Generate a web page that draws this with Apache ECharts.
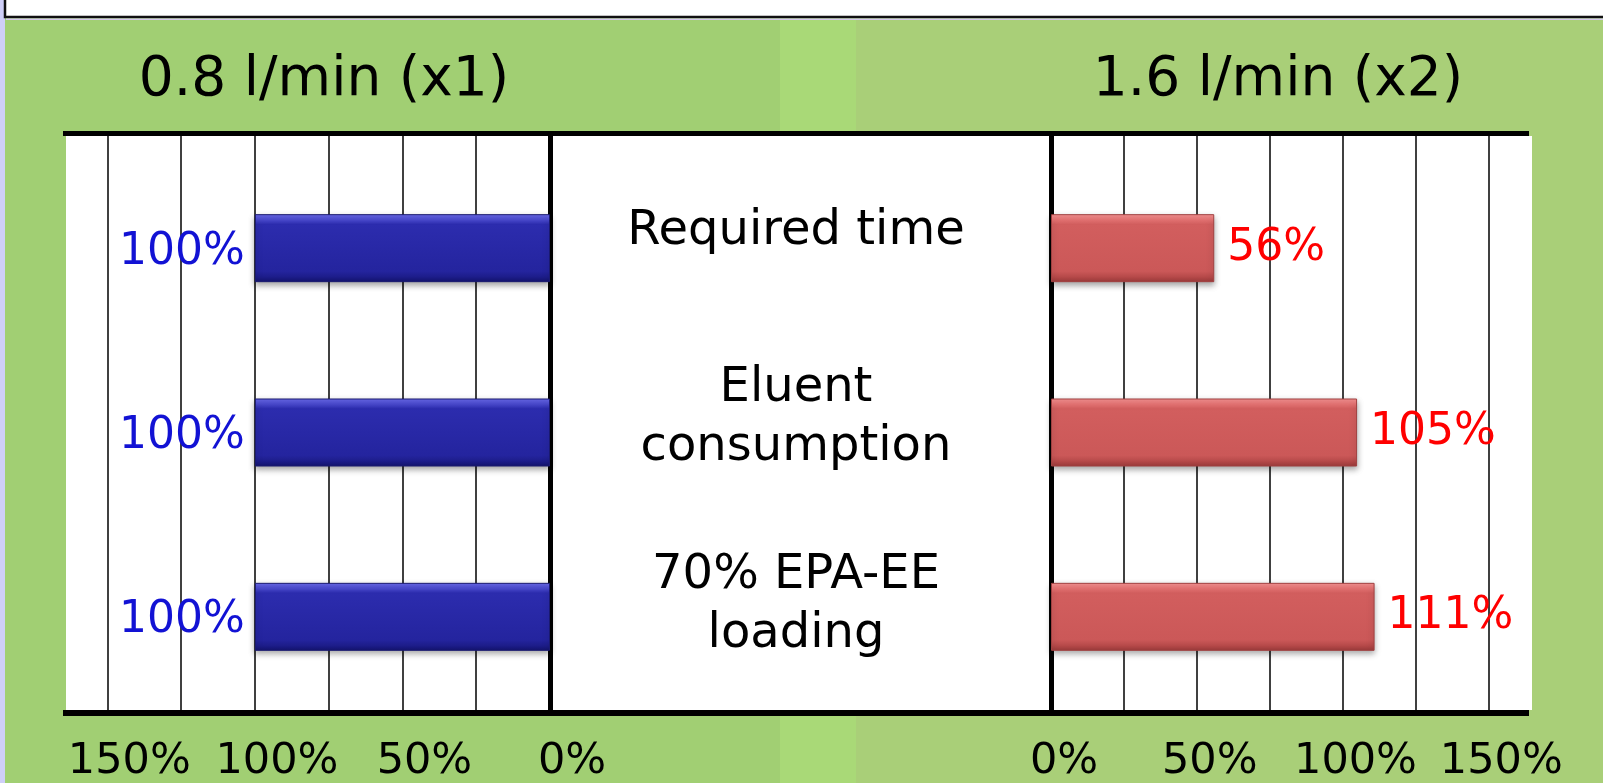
<!DOCTYPE html>
<html>
<head>
<meta charset="utf-8">
<title>Flow rate comparison</title>
<script src="https://cdn.jsdelivr.net/npm/echarts@6/dist/echarts.min.js"></script>
<style>
  html, body { margin: 0; padding: 0; background: #a1cf73; }
  #chart { width: 1603px; height: 783px; }
</style>
</head>
<body>
<div id="chart"></div>
<script>
// Process parameters compared at two flow rates
const categories = ['Required time', 'Eluent\nconsumption', '70% EPA-EE\nloading'];
const lowFlowValues = [100, 100, 100];   // 0.8 l/min (x1)
const highFlowValues = [56, 105, 111];   // 1.6 l/min (x2)
const lowFlowTitle = '0.8 l/min (x1)';
const highFlowTitle = '1.6 l/min (x2)';
const tickStep = 25;
const labelStep = 50;

const FONT = 'DejaVu Sans';

function tickLabel(v) {
  return (v % labelStep === 0 && v <= 150) ? v + '%' : '';
}

function barGradient(stops) {
  return new echarts.graphic.LinearGradient(0, 0, 0, 1, stops);
}

const blueFill = barGradient([
  { offset: 0, color: '#6a6aea' },
  { offset: 0.08, color: '#4c4cd2' },
  { offset: 0.15, color: '#2c2cae' },
  { offset: 0.84, color: '#24249e' },
  { offset: 0.93, color: '#1c1c88' },
  { offset: 1, color: '#13136c' }
]);
const redFill = barGradient([
  { offset: 0, color: '#f69494' },
  { offset: 0.08, color: '#ea7676' },
  { offset: 0.15, color: '#d25e5e' },
  { offset: 0.84, color: '#cb5858' },
  { offset: 0.93, color: '#b44848' },
  { offset: 1, color: '#9a3a3a' }
]);

const valueAxisFrame = (gridIndex, max, inverse, labelShift, margin) => ({
  type: 'value', gridIndex, min: 0, max, interval: tickStep, inverse,
  axisLine: { show: false }, axisTick: { show: false },
  splitLine: { show: true, showMinLine: false, showMaxLine: false,
    lineStyle: { color: '#000', width: 1.5 } },
  axisLabel: {
    show: true, formatter: tickLabel, showMaxLabel: false,
    margin, color: '#000', fontFamily: FONT, fontSize: 43,
    padding: labelShift >= 0 ? [0, 0, 0, labelShift * 2] : [0, -labelShift * 2, 0, 0]
  }
});

const valueAxisHidden = (gridIndex, max, inverse) => ({
  type: 'value', gridIndex, min: 0, max, inverse, show: false,
  splitLine: { show: false }
});

const option = {
  animation: false,
  backgroundColor: '#a1cf73',
  graphic: [
    // page backdrop
    { type: 'rect', z: -20, shape: { x: 0, y: 0, width: 1603, height: 783 }, style: { fill: '#a1cf73' } },
    { type: 'rect', z: -19, shape: { x: 780, y: 19, width: 76, height: 764 }, style: { fill: '#a9d977' } },
    { type: 'rect', z: -19, shape: { x: 856, y: 19, width: 747, height: 764 }, style: { fill: '#a9cf78' } },
    { type: 'rect', z: -19, shape: { x: 0, y: 0, width: 5, height: 783 }, style: { fill: '#cfcff8' } },
    { type: 'rect', z: -18, shape: { x: 5, y: -5, width: 1610, height: 22 },
      style: { fill: '#fff', stroke: '#111', lineWidth: 2.5 } },
    { type: 'rect', z: -18, shape: { x: 6, y: 18.5, width: 1597, height: 1.5 }, style: { fill: '#d4c8ec' } },
    // plot panel
    { type: 'rect', z: -10, shape: { x: 66, y: 136, width: 1466, height: 574 }, style: { fill: '#fff' } },
    { type: 'rect', z: 50, shape: { x: 63, y: 131, width: 1466, height: 5 }, style: { fill: '#000' } },
    { type: 'rect', z: 50, shape: { x: 63, y: 710, width: 1466, height: 6 }, style: { fill: '#000' } },
    // panel headings
    { type: 'text', z: 50, x: 324, y: 81,
      style: { text: lowFlowTitle, fill: '#000', font: '55px "DejaVu Sans"', textAlign: 'center', textVerticalAlign: 'middle' } },
    { type: 'text', z: 50, x: 1278, y: 81,
      style: { text: highFlowTitle, fill: '#000', font: '55px "DejaVu Sans"', textAlign: 'center', textVerticalAlign: 'middle' } }
  ],
  grid: [
    { left: 66, width: 484, top: 134, height: 582 },   // left frame
    { left: 66, width: 484, top: 156, height: 553 },   // left bars
    { left: 1051, width: 481, top: 134, height: 582 }, // right frame
    { left: 1051, width: 481, top: 156, height: 553 }, // right bars
    { left: 1051, width: 481, top: 138, height: 560 }  // category captions
  ],
  xAxis: [
    valueAxisFrame(0, 164, true, 22, 27),
    valueAxisHidden(1, 164, true),
    valueAxisFrame(2, 165, false, 13, 29),
    valueAxisHidden(3, 165, false),
    valueAxisHidden(4, 165, false)
  ],
  yAxis: [
    { type: 'category', gridIndex: 0, data: categories, inverse: true, position: 'right',
      axisLine: { show: true, onZero: false, lineStyle: { color: '#000', width: 5 } },
      axisTick: { show: false }, axisLabel: { show: false }, splitLine: { show: false } },
    { type: 'category', gridIndex: 1, data: categories, inverse: true, show: false },
    { type: 'category', gridIndex: 2, data: categories, inverse: true, position: 'left',
      axisLine: { show: true, onZero: false, lineStyle: { color: '#000', width: 5 } },
      axisTick: { show: false }, axisLabel: { show: false }, splitLine: { show: false } },
    { type: 'category', gridIndex: 3, data: categories, inverse: true, show: false },
    { type: 'category', gridIndex: 4, data: categories, inverse: true, position: 'left',
      axisLine: { show: false }, axisTick: { show: false }, splitLine: { show: false },
      axisLabel: { show: true, margin: 255, align: 'center', color: '#000',
        fontFamily: FONT, fontSize: 48, lineHeight: 59 } }
  ],
  series: [
    {
      name: lowFlowTitle, type: 'bar', xAxisIndex: 1, yAxisIndex: 1, z: 3,
      data: lowFlowValues, barWidth: 68,
      itemStyle: { color: blueFill, borderColor: '#1a1a70', borderWidth: 1,
        shadowBlur: 6, shadowOffsetY: 3, shadowColor: 'rgba(0,0,0,0.35)' },
      label: { show: true, position: 'left', distance: 10, offset: [0, 4],
        formatter: '{c}%', color: '#1212d4', fontFamily: FONT, fontSize: 44 }
    },
    {
      name: highFlowTitle, type: 'bar', xAxisIndex: 3, yAxisIndex: 3, z: 3,
      data: highFlowValues, barWidth: 68,
      itemStyle: { color: redFill, borderColor: '#a04040', borderWidth: 1,
        shadowBlur: 6, shadowOffsetY: 3, shadowColor: 'rgba(0,0,0,0.35)' },
      label: { show: true, position: 'right', distance: 13, offset: [0, 0],
        formatter: '{c}%', color: '#ff0000', fontFamily: FONT, fontSize: 44 }
    }
  ]
};

const chart = echarts.init(document.getElementById('chart'), null, { renderer: 'canvas' });
chart.setOption(option);
</script>
</body>
</html>
